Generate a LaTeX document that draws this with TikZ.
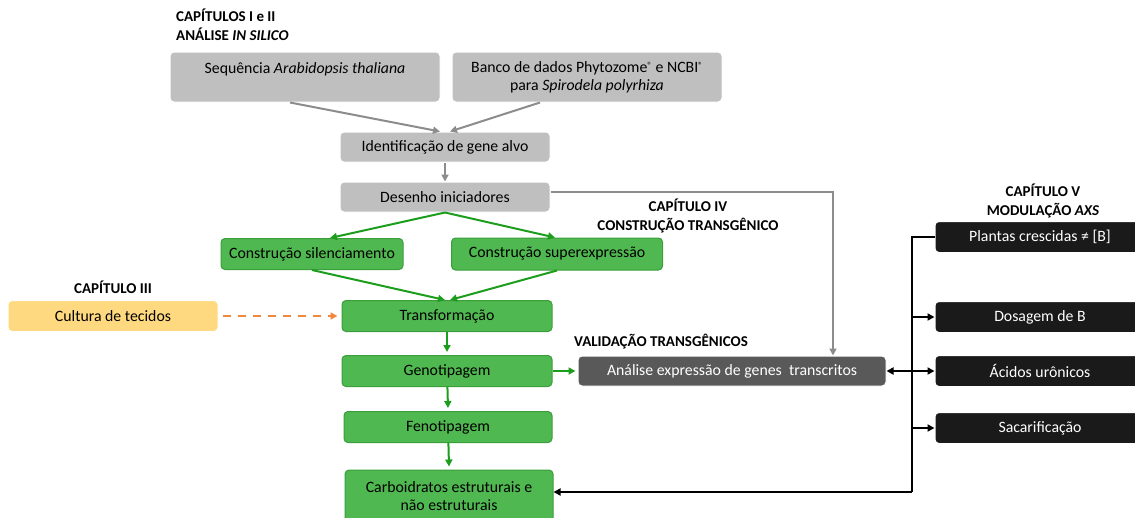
\documentclass[tikz,border=0pt]{standalone}
\usepackage{fontspec}
\setmainfont{Carlito}
\usetikzlibrary{arrows.meta}
\usetikzlibrary{positioning}

\definecolor{cinzaclaro}{HTML}{BFBFBF}
\definecolor{cinzaseta}{HTML}{8C8C8C}
\definecolor{verdecaixa}{HTML}{50B850}
\definecolor{verdeborda}{HTML}{3A9E3A}
\definecolor{verdeseta}{HTML}{1C9E1C}
\definecolor{amarelo}{HTML}{FFD980}
\definecolor{laranja}{HTML}{F0883E}
\definecolor{cinzaescuro}{HTML}{595959}
\definecolor{quasepreto}{HTML}{1A1A1A}

\newcommand{\marca}{\raisebox{4pt}{\fontsize{9}{9}\selectfont ®}}

\tikzset{
  caixa/.style={rounded corners=4pt, minimum height=31pt, inner sep=0pt, align=center,
    font=\fontsize{15.8}{18}\selectfont},
  cinza/.style={caixa, fill=cinzaclaro, draw=white, line width=1pt},
  verde/.style={caixa, fill=verdecaixa, draw=verdeborda, line width=1pt},
  amarela/.style={caixa, fill=amarelo, draw=white, line width=1pt},
  escura/.style={caixa, fill=cinzaescuro, text=white, draw=white, line width=1pt},
  preta/.style={caixa, fill=quasepreto, text=white, draw=white, line width=1pt},
  titulo/.style={font=\fontsize{15}{19}\selectfont\bfseries, align=center, inner sep=0pt},
  setacinza/.style={-{Triangle[length=7pt,width=7pt]}, draw=cinzaseta, line width=2pt},
  setaverde/.style={-{Triangle[length=7pt,width=7pt]}, draw=verdeseta, line width=2pt},
  setapreta/.style={draw=black, line width=2.4pt},
  pontapreta/.style={setapreta, -{Triangle[length=7pt,width=7pt]}}
}

\begin{document}
\begin{tikzpicture}[x=1pt,y=-1pt]
\useasboundingbox (0,0) rectangle (1135,517);
\node[titulo, anchor=north west, align=left] (cap12) at (176,9) {CAPÍTULOS I e II\\ANÁLISE \textit{IN SILICO}};
\node[cinza, minimum width=270pt, minimum height=50pt] (seq) at (305,77) {Sequência \textit{Arabidopsis thaliana}\\\mbox{}};
\node[cinza, minimum width=270pt, minimum height=50pt] (banco) at (587,77) {Banco de dados Phytozome\marca{} e NCBI\marca\\para \textit{Spirodela polyrhiza}};
\node[cinza, minimum width=210pt, minimum height=30pt] (ident) at (445,147) {Identificação de gene alvo};
\node[cinza, minimum width=210pt, minimum height=30pt] (desenho) at (445,197) {Desenho iniciadores};
\node[titulo] (cap4) at (688,216) {CAPÍTULO IV\\CONSTRUÇÃO TRANSGÊNICO};
\node[verde, minimum width=182pt] (silenc) at (312,254) {Construção silenciamento};
\node[verde, minimum width=211pt, minimum height=32pt] (super) at (557,254) {Construção superexpressão};
\node[titulo] (cap3) at (113,287) {CAPÍTULO III};
\node[amarela, minimum width=210pt] (cultura) at (113,316) {Cultura de tecidos};
\node[verde, minimum width=210pt] (transf) at (447,316) {Transformação};
\node[titulo, anchor=west] (valid) at (574,342) {VALIDAÇÃO TRANSGÊNICOS};
\node[verde, minimum width=210pt] (geno) at (447,371) {Genotipagem};
\node[escura, minimum width=308pt, minimum height=30pt] (analise) at (732,371) {Análise expressão de genes\ \ transcritos};
\node[verde, minimum width=208pt] (feno) at (448,427) {Fenotipagem};
\node[verde, minimum width=208pt, minimum height=52pt] (carbo) at (449,496) {Carboidratos estruturais e\\não estruturais};
\node[titulo] (cap5) at (1043,201) {CAPÍTULO V\\MODULAÇÃO \textit{AXS}};
\node[preta, minimum width=210pt] (plantas) at (1040,237) {Plantas crescidas ≠ [B]};
\node[preta, minimum width=210pt] (dosagem) at (1040,317) {Dosagem de B};
\node[preta, minimum width=210pt] (acidos) at (1040,371) {Ácidos urônicos};
\node[preta, minimum width=210pt] (sacar) at (1040,428) {Sacarificação};
\coordinate (canto) at (833,192);
\coordinate (jtop) at (912,237);
\coordinate (jbot) at (912,492);
% capitulos I e II
\draw[setacinza] ([xshift=-15pt]seq.south) -- ([xshift=-5pt]ident.north);
\draw[setacinza] ([xshift=-47pt]banco.south) -- ([xshift=5pt]ident.north);
\draw[setacinza] (ident) -- (desenho);
\draw[setacinza] ([yshift=5pt]desenho.east) -- (canto) -- (canto |- analise.north);
% capitulo IV
\draw[setaverde] (desenho.south) -- ([xshift=18pt]silenc.north);
\draw[setaverde] (desenho.south) -- ([xshift=-2pt]super.north);
\draw[setaverde] (silenc.south) -- ([xshift=-2pt]transf.north);
\draw[setaverde] (super.south) -- ([xshift=3pt]transf.north);
\draw[-{Triangle[length=7pt,width=7pt]}, draw=laranja, line width=2pt, dash pattern=on 8pt off 7pt] ([xshift=4pt]cultura.east) -- ([xshift=-4pt]transf.west);
\draw[setaverde] (transf) -- ([yshift=3pt]geno.north);
\draw[setaverde] (geno) -- ([xshift=-2pt]analise.west);
\draw[setaverde] (geno) -- ([yshift=3pt]feno.north);
\draw[setaverde] (feno) -- ([yshift=3pt]carbo.north);
% capitulo V
\draw[setapreta] (plantas.west) -- (jtop) -- (jbot);
\draw[pontapreta] (jbot) -- (jbot -| carbo.east);
\draw[pontapreta] (jtop |- dosagem.west) -- (dosagem.west);
\draw[setapreta, {Triangle[length=7pt,width=7pt]}-{Triangle[length=7pt,width=7pt]}] (analise.east) -- (acidos.west);
\draw[pontapreta] (jtop |- sacar.west) -- (sacar.west);
\end{tikzpicture}
\end{document}
